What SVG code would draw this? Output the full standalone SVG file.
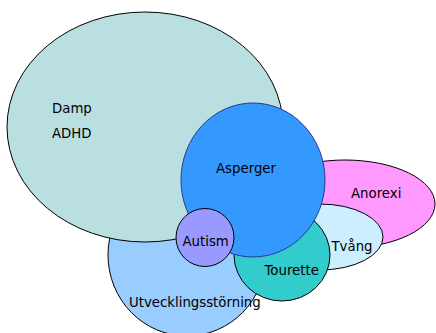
<svg xmlns="http://www.w3.org/2000/svg" width="436" height="333" viewBox="0 0 436 333">
<style>
.s{stroke:#000;stroke-width:1}
text{font-family:"DejaVu Sans",Verdana,sans-serif;font-size:13.3px;fill:#000}
</style>
<rect width="436" height="333" fill="#fff"/>
<g id="utveckling"><ellipse class="s" cx="187" cy="255" rx="79" ry="81" fill="#99ccff"/></g>
<g id="damp"><ellipse class="s" cx="145" cy="127" rx="138" ry="115" fill="#b9dfe1"/></g>
<g id="anorexi"><ellipse class="s" cx="345" cy="204" rx="90" ry="44" fill="#ff99ff"/></g>
<g id="tvang"><ellipse class="s" cx="320" cy="237" rx="63" ry="33" fill="#cceeff"/></g>
<g id="tourette"><ellipse class="s" cx="282" cy="255" rx="48" ry="46" fill="#33cccc"/></g>
<g id="asperger"><ellipse cx="253" cy="180" rx="72" ry="77" fill="#3399ff" stroke="#333399" stroke-width="1"/></g>
<g id="autism"><circle class="s" cx="205" cy="237.5" r="29" fill="#9999ff"/></g>
<g id="labels">
<text x="52" y="112.5">Damp</text>
<text x="52" y="138">ADHD</text>
<text x="216" y="173">Asperger</text>
<text x="351" y="198">Anorexi</text>
<text x="331.5" y="250.5">Tvång</text>
<text x="264.5" y="274.5">Tourette</text>
<text x="182.5" y="245.5">Autism</text>
<text x="129" y="307">Utvecklingsstörning</text>
</g>
<g id="connectors"></g>
</svg>
